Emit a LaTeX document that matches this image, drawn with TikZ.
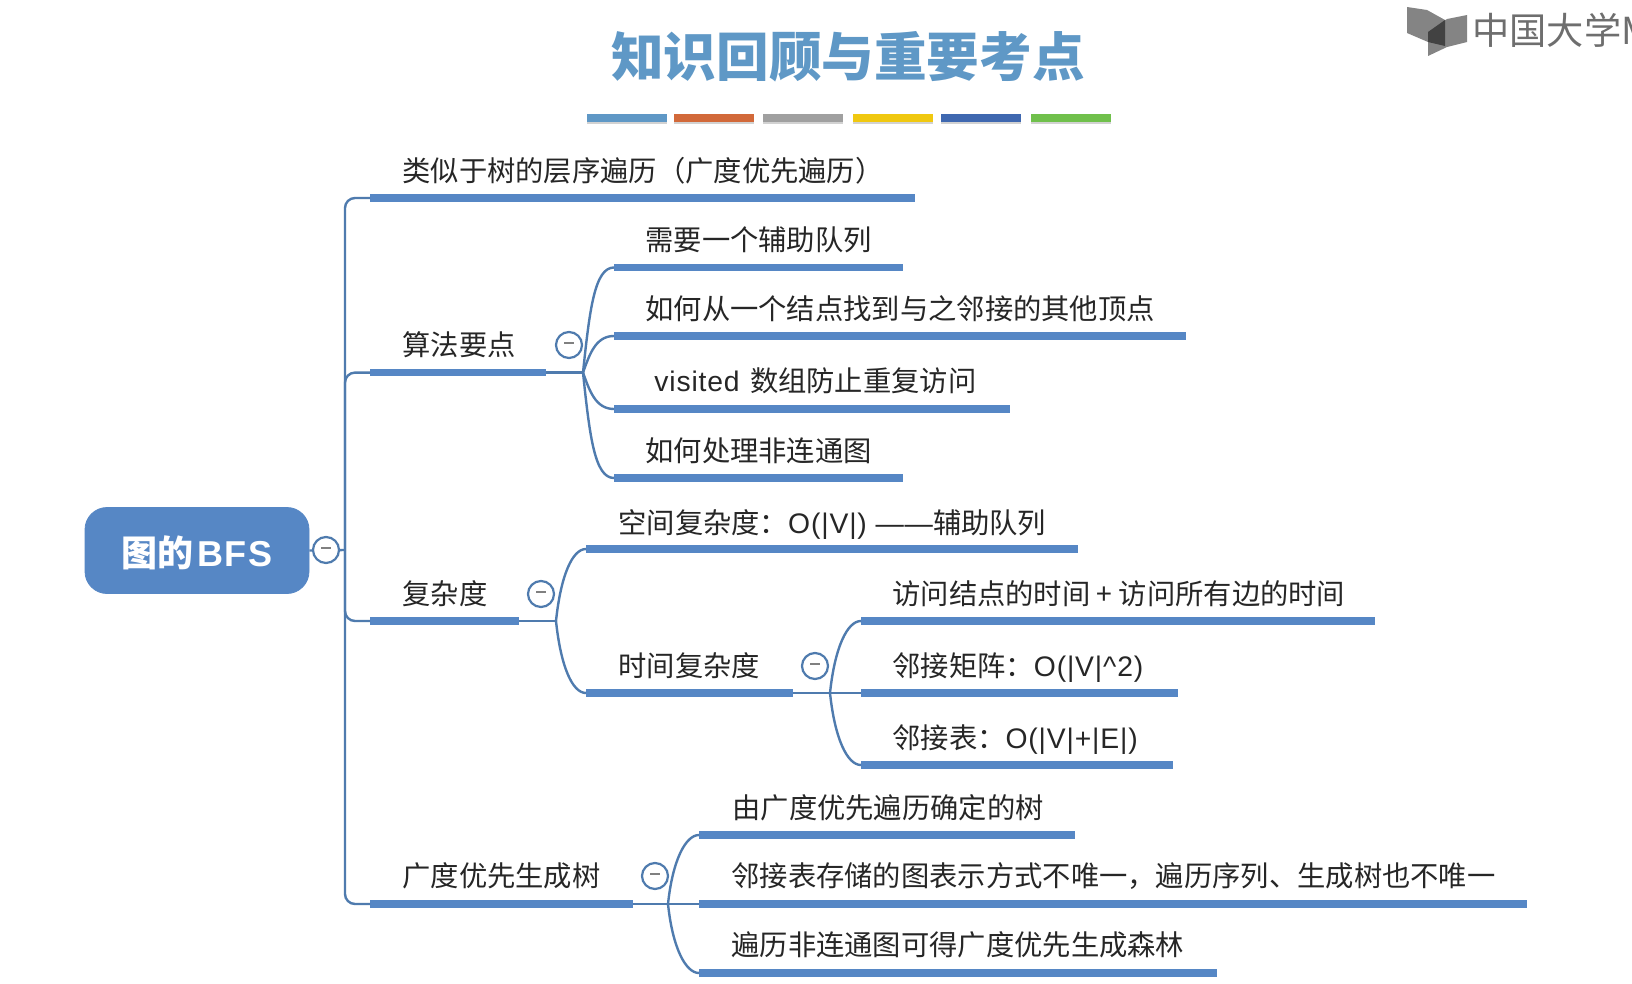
\documentclass[tikz,border=0pt]{standalone}
\usepackage{fontspec}
\setmainfont{Noto Sans CJK SC}
\newfontfamily\latinpart[LetterSpace=3]{Liberation Sans}
\usetikzlibrary{shadows}
\definecolor{mapblue}{HTML}{5687C5}
\definecolor{linkblue}{HTML}{4F7BAE}
\definecolor{titleblue}{HTML}{5F98C6}
\definecolor{logogray}{HTML}{6E6E6E}
\tikzset{
 root/.style={rectangle,rounded corners=11pt,fill=mapblue,draw=mapblue,minimum width=112pt,minimum height=43pt,inner sep=0pt,text=white,text height=16pt,text depth=0pt,font=\fontsize{18}{18}\selectfont\bfseries},
 barw/.style={anchor=west,rectangle,fill=mapblue,inner sep=0pt,outer sep=0pt,minimum height=3.8pt,minimum width=#1*0.5pt},
 lbl/.style={anchor=west,inner sep=0pt,text height=11.5pt,text depth=1pt,font=\fontsize{14.15}{14}\selectfont,text=black!85},
 fold/.style={circle,draw=linkblue,fill=white,line width=1.1pt,minimum size=13pt,inner sep=0pt,text=gray},
 conn/.style={draw=linkblue,line width=1.2pt},
 farbranch/.style={out=#1,in=180,out looseness=1.5,in looseness=0.45},
 nearbranch/.style={out=#1,in=180,looseness=1},
 strip/.style={anchor=west,rectangle,inner sep=0pt,minimum height=4.3pt,minimum width=40pt,drop shadow={shadow xshift=0pt,shadow yshift=-1pt,opacity=0.35}}
}
\newcommand{\foldmark}{\rule[2.5pt]{5pt}{1pt}}
\begin{document}
\begin{tikzpicture}[x=0.5pt,y=-0.5pt]
 \clip (0,0) rectangle (1632,984);
 \fill[white] (0,0) rectangle (1632,984);
 \node[text=titleblue,inner sep=0pt,font=\fontsize{26.3}{26}\selectfont\bfseries] (title) at (848,57) {知识回顾与重要考点};
 \node[strip,fill=titleblue] (s1) at (587,118) {};
 \node[strip,fill={rgb,255:red,210;green,105;blue,58}] (s2) at (674,118) {};
 \node[strip,fill={rgb,255:red,160;green,160;blue,160}] (s3) at (763,118) {};
 \node[strip,fill={rgb,255:red,240;green,200;blue,16}] (s4) at (853,118) {};
 \node[strip,fill={rgb,255:red,63;green,104;blue,176}] (s5) at (941,118) {};
 \node[strip,fill={rgb,255:red,112;green,192;blue,76}] (s6) at (1031,118) {};

 \fill[logogray!85] (1407,7)--(1427,10)--(1445,20)--(1445,46)--(1428,42)--(1407,33)--cycle;
 \fill[logogray!85] (1467,15)--(1447,19)--(1428,32)--(1428,56)--(1447,47)--(1467,42)--cycle;
 \fill[logogray!60!black] (1428,32)--(1445,20)--(1445,46)--(1428,42)--cycle;
 \node[anchor=west,inner sep=0pt,text=logogray,font=\fontsize{18.6}{20}\selectfont] (logo) at (1472,30) {中国大学M};

 \node[root] (main) at (197,550.5) {图的\hspace{2pt}{\latinpart BFS}};
 \coordinate (trunk) at (345,550);
 \coordinate (hubA) at (583,372.6);
 \coordinate (hubC) at (556,621);
 \coordinate (hubT) at (830,693);
 \coordinate (hubG) at (668,904);

 \node[barw=545] (b1) at (370,198) {};
 \node[barw=176] (b2) at (370,372.6) {};
 \node[barw=149] (b3) at (370,621) {};
 \node[barw=263] (b4) at (370,904) {};
 \node[barw=289] (a1) at (614,267.5) {};
 \node[barw=572] (a2) at (614,336) {};
 \node[barw=396] (a3) at (614,409) {};
 \node[barw=289] (a4) at (614,478) {};
 \node[barw=492] (c1) at (586,549) {};
 \node[barw=207] (c2) at (586,693) {};
 \node[barw=514] (t1) at (861,621) {};
 \node[barw=317] (t2) at (861,693) {};
 \node[barw=312] (t3) at (861,765) {};
 \node[barw=376] (g1) at (699,835) {};
 \node[barw=828] (g2) at (699,904) {};
 \node[barw=518] (g3) at (699,973) {};

 \draw[conn] (main.east) -- (trunk);
 \draw[conn,rounded corners=5pt] (b1.west) -| (trunk) |- (b4.west);
 \draw[conn,rounded corners=5pt] (trunk) |- (b2.west);
 \draw[conn,rounded corners=5pt] (trunk) |- (b3.west);

 \draw[conn] (b2.east) -- (hubA);
 \draw[conn] (hubA) to[farbranch=84] (a1.west);
 \draw[conn] (hubA) to[nearbranch=70] (a2.west);
 \draw[conn] (hubA) to[nearbranch=-70] (a3.west);
 \draw[conn] (hubA) to[farbranch=-84] (a4.west);

 \draw[conn] (b3.east) -- (hubC);
 \draw[conn] (hubC) to[farbranch=84] (c1.west);
 \draw[conn] (hubC) to[farbranch=-84] (c2.west);

 \draw[conn] (c2.east) -- (hubT);
 \draw[conn] (hubT) to[farbranch=84] (t1.west);
 \draw[conn] (hubT) -- (t2.west);
 \draw[conn] (hubT) to[farbranch=-84] (t3.west);

 \draw[conn] (b4.east) -- (hubG);
 \draw[conn] (hubG) to[farbranch=84] (g1.west);
 \draw[conn] (hubG) -- (g2.west);
 \draw[conn] (hubG) to[farbranch=-84] (g3.west);

 \node[fold] (f0) at (326,550) {\foldmark};
 \node[fold] (f1) at (569,345) {\foldmark};
 \node[fold] (f2) at (541,594) {\foldmark};
 \node[fold] (f3) at (815,666) {\foldmark};
 \node[fold] (f4) at (655,876) {\foldmark};

 \node[lbl] (n1) at (402,171) {类似于树的层序遍历（广度优先遍历）};
 \node[lbl] (n2) at (402,344.5) {算法要点};
 \node[lbl] (n3) at (402,594) {复杂度};
 \node[lbl] (n4) at (402,876) {广度优先生成树};
 \node[lbl] (na1) at (645,240) {需要一个辅助队列};
 \node[lbl] (na2) at (645,309) {如何从一个结点找到与之邻接的其他顶点};
 \node[lbl] (na3) at (654,381) {{\latinpart visited}\hspace{2pt} 数组防止重复访问};
 \node[lbl] (na4) at (645,451) {如何处理非连通图};
 \node[lbl] (nc1) at (618,522.5) {空间复杂度：{\latinpart O(|V|) ——}辅助队列};
 \node[lbl] (nc2) at (618,666) {时间复杂度};
 \node[lbl] (nt1) at (892,594) {访问结点的时间 + 访问所有边的时间};
 \node[lbl] (nt2) at (892,666) {邻接矩阵：{\latinpart O(|V|\^{}2)}};
 \node[lbl] (nt3) at (892,738) {邻接表：{\latinpart O(|V|+|E|)}};
 \node[lbl] (ng1) at (732,808) {由广度优先遍历确定的树};
 \node[lbl] (ng2) at (731,876) {邻接表存储的图表示方式不唯一，遍历序列、生成树也不唯一};
 \node[lbl] (ng3) at (731,945) {遍历非连通图可得广度优先生成森林};
\end{tikzpicture}
\end{document}
